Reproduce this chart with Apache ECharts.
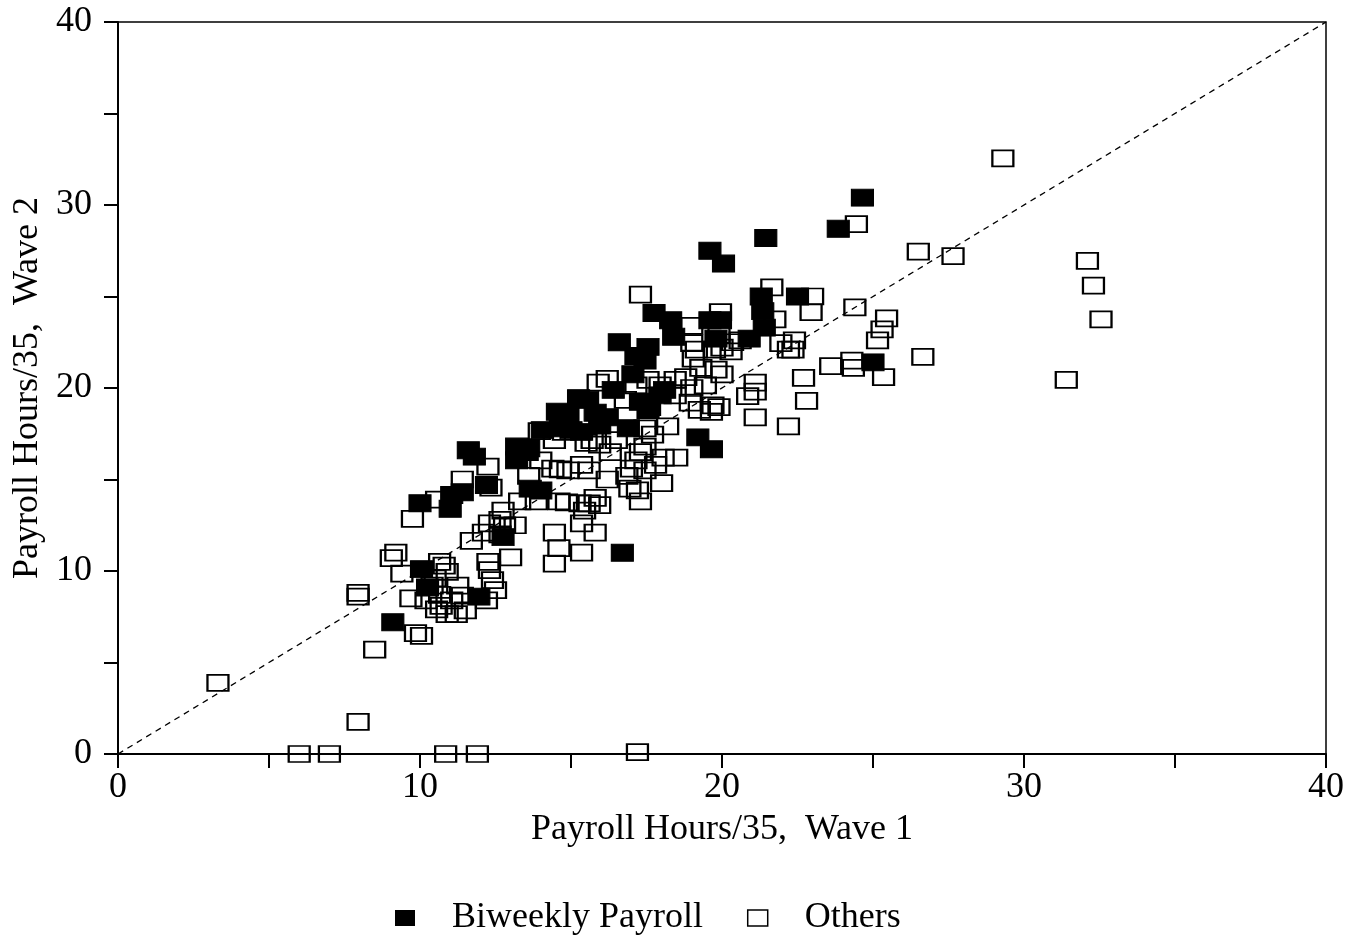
<!DOCTYPE html>
<html>
<head>
<meta charset="utf-8">
<script src="https://cdn.jsdelivr.net/npm/echarts@6/dist/echarts.min.js"></script>
<style>
html,body{margin:0;padding:0;background:#fff;}
#chart{width:1360px;height:943px;}
</style>
</head>
<body>
<div id="chart"></div>
<script>
const seriesNames = ['Biweekly Payroll', 'Others'];
const xAxisTitle = 'Payroll Hours/35,  Wave 1';
const yAxisTitle = 'Payroll Hours/35,  Wave 2';
const axisMin = 0, axisMax = 40, tickStep = 5, labelStep = 10;
const diagonal = [[0, 0], [40, 40]];

const biweekly = [
  [9.1,7.2],[10.05,10.1],[10.25,9.1],[11.95,8.6],[10.0,13.7],[11.0,13.4],[11.05,14.15],[11.4,14.3],
  [11.6,16.6],[11.8,16.25],[12.2,14.7],[12.75,11.85],[13.2,16.8],[13.2,16.05],[13.65,14.5],[13.6,16.7],
  [14.0,14.4],[13.55,16.5],[14.05,17.7],[14.55,18.7],[14.65,17.8],[14.9,18.6],[15.25,19.45],[15.55,19.35],
  [15.35,17.6],[15.8,18.65],[16.2,18.4],[16.4,19.9],[16.9,17.8],[15.95,17.95],[15.0,17.7],[16.6,22.5],
  [16.7,11.0],[17.05,20.75],[17.15,21.75],[17.3,19.25],[17.45,21.5],[17.55,22.25],[17.55,18.8],[17.75,24.1],
  [17.95,19.6],[18.1,19.9],[18.3,23.7],[18.4,22.8],[19.2,17.3],[19.65,16.65],[19.6,27.5],[19.6,23.7],
  [19.95,23.7],[20.05,26.8],[19.8,22.7],[20.9,22.7],[21.3,25.0],[21.35,24.2],[21.45,28.2],[21.4,23.3],
  [22.5,25.0],[23.85,28.7],[24.65,30.4],[25.0,21.4]
];

const others = [
  [3.31,3.88],[6.0,0],[7.0,0],[10.85,0],[11.9,0],[17.2,0.1],[7.95,1.75],[8.5,5.7],[7.95,8.6],[7.95,8.8],
  [9.05,10.7],[9.2,11.0],[9.75,12.85],[9.7,8.5],[9.85,6.6],[10.05,6.45],[9.4,9.85],[10.55,13.9],[11.4,15.0],
  [10.65,10.5],[10.8,10.3],[10.9,9.95],[10.5,9.6],[10.65,8.7],[10.7,8.1],[10.55,7.9],[10.9,7.65],[11.5,7.85],
  [11.4,8.65],[11.25,9.2],[11.05,8.4],[11.2,7.65],[12.25,10.5],[12.3,10.05],[12.4,9.5],[12.5,8.95],
  [11.7,11.65],[12.1,12.1],[12.3,12.6],[12.75,13.3],[12.65,12.8],[13.0,10.75],[13.3,13.8],[13.85,13.8],
  [14.6,13.8],[14.85,13.75],[15.3,13.7],[15.6,13.7],[15.8,14.0],[15.95,13.6],[15.45,13.3],[14.45,12.1],
  [14.6,11.25],[14.45,10.4],[15.35,12.6],[15.8,12.1],[15.35,11.0],[14.65,15.55],[15.35,15.8],[15.5,17.0],
  [13.95,17.65],[16.2,15.0],[16.85,15.2],[17.0,15.6],[17.15,16.05],[17.3,16.5],[17.2,14.4],[17.3,13.8],
  [16.95,14.5],[18.0,14.8],[18.05,16.2],[18.5,16.2],[17.7,17.45],[18.2,17.9],[17.45,16.8],[16.5,17.15],
  [16.3,16.5],[16.2,20.5],[15.7,17.15],[19.65,18.7],[19.9,18.95],[19.7,19.05],[18.95,19.2],[19.25,18.8],
  [19.0,20.0],[19.45,20.15],[18.8,20.6],[18.45,20.45],[18.45,19.6],[17.95,20.15],[17.55,20.45],[20.0,20.75],
  [19.8,21.0],[19.3,21.1],[19.05,21.6],[19.15,22.1],[19.0,22.45],[19.0,23.4],[19.95,24.15],[20.3,22.0],
  [19.9,22.9],[20.35,22.5],[17.3,25.1],[21.65,25.5],[23.0,25.0],[22.95,24.15],[21.75,23.75],[21.95,22.45],
  [22.2,22.1],[22.4,22.6],[22.35,22.1],[23.6,21.2],[24.3,21.5],[24.35,21.1],[24.4,24.4],[25.45,23.8],
  [25.3,23.2],[25.15,22.6],[25.35,20.6],[26.65,21.7],[22.7,20.55],[22.8,19.3],[22.2,17.9],[21.1,20.3],
  [21.1,19.8],[20.85,19.55],[21.1,18.4],[24.45,28.95],[26.5,27.45],[27.65,27.2],[29.3,32.55],[32.1,26.95],
  [32.3,25.6],[32.55,23.75],[31.4,20.45],[17.45,15.5],[17.8,15.8],[14.9,15.5],[14.4,15.6],[13.6,15.2],
  [12.35,14.55],[12.25,15.7],[14.45,17.15],[14.0,16.05],[16.8,19.35],[17.15,20.15],[17.6,18.95],[17.45,17.8],
  [15.9,20.3],[19.75,22.1],[20.0,22.2],[15.6,15.5],[15.95,16.9],[13.15,12.5],[12.8,12.5],[12.65,12.0],
  [10.2,8.4],[10.4,9.2],[12.2,8.4],[20.6,22.6],[14.75,17.6]
];

const FONT = 'Liberation Serif';
const chart = echarts.init(document.getElementById('chart'), null, {renderer: 'canvas'});

function makeAxis(name, isY) {
  return {
    type: 'value',
    min: axisMin, max: axisMax, interval: tickStep,
    name: name,
    nameLocation: 'middle',
    nameGap: isY ? 50 : 58,
    nameRotate: isY ? 90 : 0,
    nameTextStyle: {fontFamily: FONT, fontSize: 36, color: '#000'},
    axisLine: {show: true, lineStyle: {color: '#000', width: 2}},
    axisTick: {show: true, inside: false, length: 14, lineStyle: {color: '#000', width: 2}},
    axisLabel: {
      show: true,
      fontFamily: FONT, fontSize: 36, color: '#000',
      margin: isY ? 26 : 16,
      formatter: v => (v % labelStep === 0 ? String(v) : '')
    },
    splitLine: {show: false}
  };
}

chart.setOption({
  backgroundColor: '#fff',
  animation: false,
  grid: {left: 118, right: 34, top: 22, bottom: 189, show: true, borderColor: '#000', borderWidth: 1.5, backgroundColor: 'transparent'},
  xAxis: makeAxis(xAxisTitle, false),
  yAxis: makeAxis(yAxisTitle, true),
  legend: {
    data: [
      {name: seriesNames[0], icon: 'rect', itemStyle: {color: '#000', borderWidth: 0}},
      {name: seriesNames[1], icon: 'rect', itemStyle: {color: '#fff', borderColor: '#000', borderWidth: 1.5}}
    ],
    bottom: 2,
    left: 390,
    itemWidth: 20, itemHeight: 16,
    itemGap: 44,
    textStyle: {fontFamily: FONT, fontSize: 36, color: '#000', padding: [0, 0, 0, 32]}
  },
  series: [
    {
      name: 'diag', type: 'line', data: diagonal, symbol: 'none', silent: true,
      lineStyle: {color: '#000', width: 1.3, type: [6, 5]}, z: 1
    },
    {
      name: seriesNames[1], type: 'scatter', data: others,
      symbol: 'rect', symbolSize: [21, 16],
      itemStyle: {color: 'rgba(255,255,255,0)', borderColor: '#000', borderWidth: 2, opacity: 1},
      z: 2
    },
    {
      name: seriesNames[0], type: 'scatter', data: biweekly,
      symbol: 'rect', symbolSize: [22, 17],
      itemStyle: {color: '#000', borderColor: '#000', borderWidth: 1, opacity: 1},
      z: 3
    }
  ]
});
</script>
</body>
</html>
